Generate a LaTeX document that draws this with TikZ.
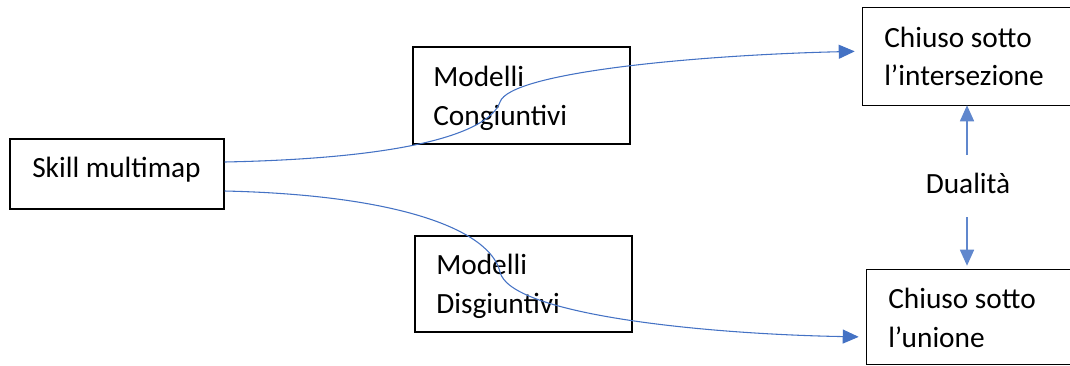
\documentclass[tikz,border=0pt]{standalone}
\usepackage{fontspec}
\setmainfont{Carlito}
\usetikzlibrary{arrows.meta}
\definecolor{linkblue}{HTML}{4472C4}
\tikzset{
  box/.style={draw=black, line width=1.1pt, rectangle, inner sep=0pt},
  openbox/.style={rectangle, inner sep=0pt},
  edge/.style={draw=black, line width=1.1pt},
  lbl/.style={anchor=base west, inner sep=0pt, font=\fontsize{22}{29}\selectfont},
  link/.style={draw=linkblue, line width=0.8pt,
    -{Triangle[length=12pt,width=10.5pt]}, shorten >=6pt},
  duallink/.style={draw=linkblue!85, line width=1.2pt,
    -{Triangle[length=12pt,width=10.5pt]}},
}
\begin{document}
\begin{tikzpicture}[x=0.75pt, y=-0.75pt]
\useasboundingbox (0,0) rectangle (1070,365);

% boxes
\node[box, minimum width=214*0.75pt, minimum height=70*0.75pt] (skill) at (117,174) {};
\node[box, minimum width=217*0.75pt, minimum height=97*0.75pt] (conj) at (521.5,95.5) {};
\node[box, minimum width=217*0.75pt, minimum height=96*0.75pt] (disj) at (523.5,284) {};
% the two boxes on the right run past the edge of the page
\node[openbox, minimum width=207*0.75pt, minimum height=97*0.75pt] (inter) at (966.5,56.5) {};
\node[openbox, minimum width=203*0.75pt, minimum height=94*0.75pt] (union) at (968.5,317) {};
\draw[edge] (inter.north east) -- (inter.north west) -- (inter.south west) -- (inter.south east);
\draw[edge] (union.north east) -- (union.north west) -- (union.south west) -- (union.south east);

% texts
\node[lbl] (tskill) at (32,177) {Skill multimap};
\node[lbl] (tconj1) at (433,86) {Modelli};
\node[lbl] (tconj2) at (433,125) {Congiuntivi};
\node[lbl] (tdisj1) at (436,274) {Modelli};
\node[lbl] (tdisj2) at (436,313) {Disgiuntivi};
\node[lbl] (tint1) at (884,47) {Chiuso sotto};
\node[lbl] (tint2) at (884,85) {l’intersezione};
\node[lbl] (tuni1) at (888,308) {Chiuso sotto};
\node[lbl] (tuni2) at (888,347) {l’unione};
\node[lbl, anchor=base] (dual) at (968,193) {Dualità};

% curved connectors
\coordinate (kc) at (500,102);
\coordinate (kd) at (500,272);
\path[link] ([yshift=9pt]skill.east) .. controls (420,158) and (490,130) .. (kc)
  .. controls (510,72) and (700,55) .. ([yshift=4pt]inter.west);
\path[link] ([yshift=-12.75pt]skill.east) .. controls (400,195) and (490,230) .. (kd)
  .. controls (510,314) and (700,334) .. ([yshift=-15pt]union.west);

% duality arrows
\coordinate (dtop) at (967,155);
\coordinate (dbot) at (967,217);
\path[duallink] (dtop) -- (dtop |- inter.south);
\path[duallink] (dbot) -- ([yshift=3pt]dbot |- union.north);
\end{tikzpicture}
\end{document}
